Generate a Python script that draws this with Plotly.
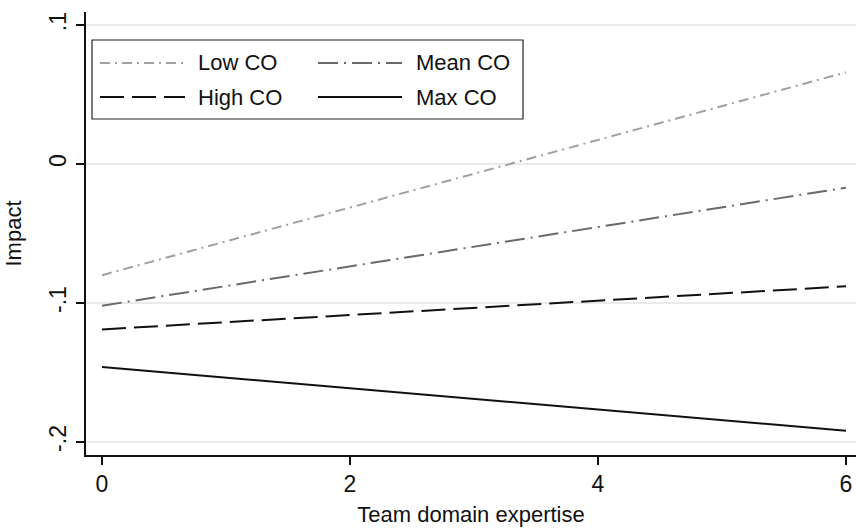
import plotly.graph_objects as go

# ---- data ----
x_vals = [0, 6]
series_names = ["Low CO", "Mean CO", "High CO", "Max CO"]
low_co = [-0.080, 0.066]
mean_co = [-0.102, -0.017]
high_co = [-0.119, -0.088]
max_co = [-0.146, -0.192]
x_ticks = [0, 2, 4, 6]
y_ticks = [-0.2, -0.1, 0, 0.1]
y_tick_labels = ["-.2", "-.1", "0", ".1"]

colors = ["#a0a0a0", "#6a6a6a", "#111111", "#111111"]
dashes = ["10px,5px,2px,5px", "20px,6px,2px,6px", "24px,8px", "solid"]
series = [low_co, mean_co, high_co, max_co]

FONT = "Liberation Sans, Arial, sans-serif"

fig = go.Figure()
for name, ys, c, d in zip(series_names, series, colors, dashes):
    fig.add_trace(go.Scatter(x=x_vals, y=ys, mode="lines", name=name,
                             line=dict(color=c, width=2, dash=d),
                             showlegend=False))

W, H = 856, 529
L, R, T, B = 86, 0, 12, 74
pw, ph = W - L - R, H - T - B

def px(xp):
    return (xp - L) / pw

def py(yp):
    return 1 - (yp - T) / ph

# manual legend (box + samples + labels)
box = (92, 40, 523, 119)
fig.add_shape(type="rect", xref="paper", yref="paper",
              x0=px(box[0]), x1=px(box[2]), y0=py(box[3]), y1=py(box[1]),
              line=dict(color="#222222", width=1.2), fillcolor="white", layer="above")
rows = [63, 97]
cols = [(100, 185, 196), (318, 402, 414)]
order = [(0, 0), (0, 1), (1, 0), (1, 1)]
for i, (r, cidx) in enumerate(order):
    x0, x1, xt = cols[cidx]
    yy = rows[r]
    fig.add_shape(type="line", xref="paper", yref="paper",
                  x0=px(x0), x1=px(x1), y0=py(yy), y1=py(yy),
                  line=dict(color=colors[i], width=2, dash=dashes[i]), layer="above")
    fig.add_annotation(xref="paper", yref="paper", x=px(xt), y=py(yy),
                       text=series_names[i], showarrow=False, xanchor="left",
                       yanchor="middle", font=dict(family=FONT, size=22, color="#111111"))

fig.update_layout(
    width=W, height=H,
    margin=dict(l=L, r=R, t=T, b=B),
    paper_bgcolor="white", plot_bgcolor="white",
    font=dict(family=FONT, size=22, color="#111111"),
    showlegend=False,
)
fig.update_xaxes(range=[-0.129, 6.081], tickmode="array", tickvals=x_ticks,
                 ticktext=[str(v) for v in x_ticks], ticklabeloverflow="allow",
                 tickfont=dict(size=23),
                 showline=True, linecolor="#111111", linewidth=1.5,
                 ticks="outside", ticklen=8, tickwidth=1.5, tickcolor="#111111",
                 showgrid=False, zeroline=False,
                 title=dict(text="Team domain expertise", font=dict(size=22), standoff=10))
fig.update_yaxes(range=[-0.2094, 0.1094], tickmode="array", tickvals=y_ticks,
                 ticktext=y_tick_labels, tickangle=-90, ticklabelstandoff=1,
                 tickfont=dict(size=23),
                 showline=True, linecolor="#111111", linewidth=1.5,
                 ticks="outside", ticklen=8, tickwidth=1.5, tickcolor="#111111",
                 showgrid=True, gridcolor="#eaeaea", gridwidth=1.5, zeroline=False,
                 title=dict(text="Impact", font=dict(size=22), standoff=17))

fig.write_html("out.html", config={"displayModeBar": False},
               post_script="document.body.style.margin='0';")
